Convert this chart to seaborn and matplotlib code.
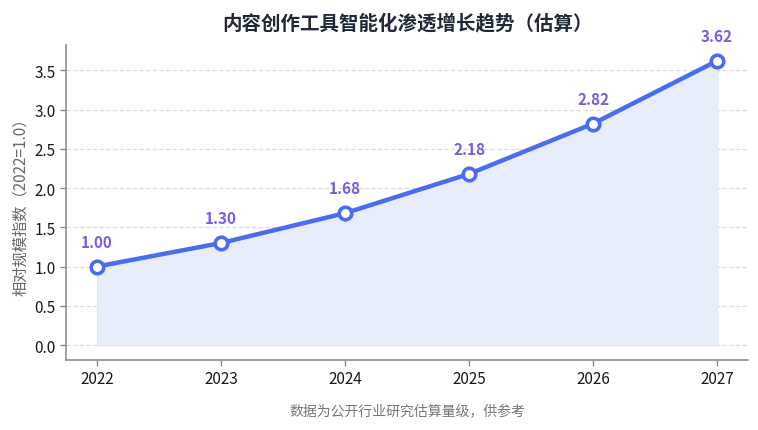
import matplotlib
matplotlib.use("Agg")
import matplotlib.pyplot as plt
import seaborn as sns
import pandas as pd

years = [2022, 2023, 2024, 2025, 2026, 2027]
index_values = [1.00, 1.30, 1.68, 2.18, 2.82, 3.62]
value_labels = ["1.00", "1.30", "1.68", "2.18", "2.82", "3.62"]
title = "内容创作工具智能化渗透增长趋势（估算）"
ylabel = "相对规模指数（2022=1.0）"
footnote = "数据为公开行业研究估算量级，供参考"

sns.set_theme(style="white")
plt.rcParams['font.family'] = ['Noto Sans CJK SC', 'DejaVu Sans']
plt.rcParams['axes.unicode_minus'] = False

df = pd.DataFrame({"year": years, "value": index_values})

fig = plt.figure(figsize=(7.58, 4.31), dpi=100)
ax = fig.add_axes([0.087, 0.1624, 0.900, 0.7306])

line_color = "#4a6cf0"
ax.fill_between(df["year"], df["value"], 0, facecolor="#e8edfc",
                edgecolor="#dfe5fa", linewidth=0.8, zorder=1)
sns.lineplot(data=df, x="year", y="value", ax=ax, color=line_color, linewidth=3.2,
             marker="o", markersize=9, markerfacecolor="white",
             markeredgecolor=line_color, markeredgewidth=2.6, zorder=3)

for x, y, t in zip(years, index_values, value_labels):
    ax.annotate(t, (x, y), xytext=(0, 12), textcoords="offset points",
                ha="center", va="bottom", color="#7a5ce0", fontsize=11,
                fontweight="bold")

ax.set_xlim(2021.75, 2027.25)
ax.set_ylim(-0.19, 3.82)
ax.set_xticks(years)
ax.set_xticklabels([str(y) for y in years])
ax.set_yticks([0.0, 0.5, 1.0, 1.5, 2.0, 2.5, 3.0, 3.5])
ax.set_yticklabels(["0.0", "0.5", "1.0", "1.5", "2.0", "2.5", "3.0", "3.5"])
ax.tick_params(axis="both", labelsize=11, labelcolor="#1a1a1a", length=4,
               width=1, direction="out", bottom=True, left=True, color="#888888")
ax.yaxis.grid(True, linestyle="--", color="#dddddd", linewidth=0.9)
ax.xaxis.grid(False)
ax.set_axisbelow(True)
for s in ["top", "right"]:
    ax.spines[s].set_visible(False)
for s in ["left", "bottom"]:
    ax.spines[s].set_color("#888888")
    ax.spines[s].set_linewidth(1.1)

ax.set_xlabel("")
ax.set_ylabel(ylabel, fontsize=11, color="#666666")
ax.set_title(title, fontsize=14, fontweight="bold", color="#1f2937", pad=12)
fig.text(0.537, 0.045, footnote, ha="center", va="center", fontsize=10,
         color="#777777")

fig.savefig("out.png", dpi=100)
